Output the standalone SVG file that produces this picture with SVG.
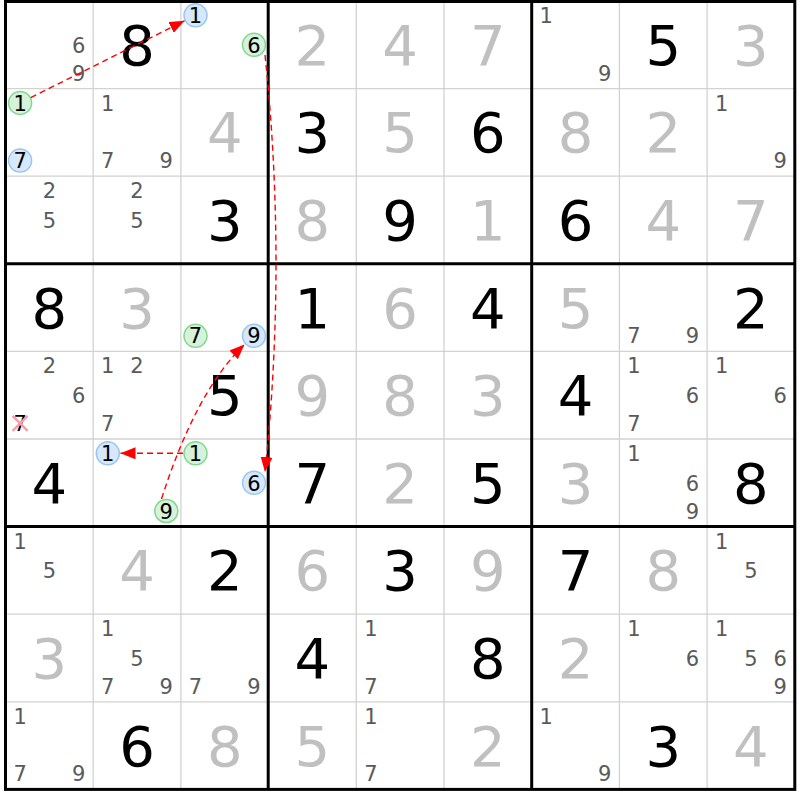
<svg xmlns="http://www.w3.org/2000/svg" width="800" height="800" viewBox="0 0 800 800">
<style>
text{font-family:"DejaVu Sans","Liberation Sans",sans-serif;text-anchor:middle}
.b{font-size:56px;fill:#000}
.f{font-size:56px;fill:#c0c0c0}
.p{font-size:21px;fill:#5a5a5a}
.k{font-size:21px;fill:#000}
.cg{fill:#d6f2da;stroke:#7fd88c;stroke-width:1.5}
.cb{fill:#d6e8fa;stroke:#98c6f2;stroke-width:1.5}
.thin{stroke:#d2d2d2;stroke-width:1.3}
.thick{stroke:#000;stroke-width:3;fill:none}
.arr{fill:none;stroke:#f00;stroke-width:1.4;stroke-dasharray:6,4;marker-end:url(#ah)}
</style>
<defs>
<marker id="ah" markerUnits="userSpaceOnUse" markerWidth="16" markerHeight="12" refX="15" refY="6" orient="auto">
<path d="M0,0 L15,6 L0,12 z" fill="#f00"/>
</marker>
</defs>
<rect x="0" y="0" width="800" height="800" fill="#fff"/>
<g id="grid">
<g class="thin">
<line x1="93.2" y1="1" x2="93.2" y2="789.4"/><line x1="180.9" y1="1" x2="180.9" y2="789.4"/>
<line x1="356.3" y1="1" x2="356.3" y2="789.4"/><line x1="444" y1="1" x2="444" y2="789.4"/>
<line x1="619.4" y1="1" x2="619.4" y2="789.4"/><line x1="707.1" y1="1" x2="707.1" y2="789.4"/>
<line x1="5.5" y1="88.6" x2="794.8" y2="88.6"/><line x1="5.5" y1="176.2" x2="794.8" y2="176.2"/>
<line x1="5.5" y1="351.4" x2="794.8" y2="351.4"/><line x1="5.5" y1="439" x2="794.8" y2="439"/>
<line x1="5.5" y1="614.2" x2="794.8" y2="614.2"/><line x1="5.5" y1="701.8" x2="794.8" y2="701.8"/>
</g>
<g class="thick">
<rect x="5.5" y="1.5" width="789.3" height="787.9"/>
<line x1="268.2" y1="1" x2="268.2" y2="789.4"/><line x1="531.7" y1="1" x2="531.7" y2="789.4"/>
<line x1="5.5" y1="263.8" x2="794.8" y2="263.8"/><line x1="5.5" y1="526.6" x2="794.8" y2="526.6"/>
</g>
</g>

<!-- Row 1 -->
<g id="r1c1" transform="translate(5.5,1)"><text class="p" x="73.1" y="51.5">6</text><text class="p" x="73.1" y="79.7">9</text></g>
<g id="r1c2" transform="translate(93.2,1)"><text class="b" x="43.85" y="63.8">8</text></g>
<g id="r1c3" transform="translate(180.9,1)"><circle class="cb" cx="14.6" cy="14.3" r="11.5"/><text class="k" x="14.6" y="22">1</text><circle class="cg" cx="73.1" cy="43.8" r="11.5"/><text class="k" x="73.1" y="51.5">6</text></g>
<g id="r1c4" transform="translate(268.6,1)"><text class="f" x="43.85" y="63.8">2</text></g>
<g id="r1c5" transform="translate(356.3,1)"><text class="f" x="43.85" y="63.8">4</text></g>
<g id="r1c6" transform="translate(444,1)"><text class="f" x="43.85" y="63.8">7</text></g>
<g id="r1c7" transform="translate(531.7,1)"><text class="p" x="14.6" y="22">1</text><text class="p" x="73.1" y="79.7">9</text></g>
<g id="r1c8" transform="translate(619.4,1)"><text class="b" x="43.85" y="63.8">5</text></g>
<g id="r1c9" transform="translate(707.1,1)"><text class="f" x="43.85" y="63.8">3</text></g>

<!-- Row 2 -->
<g id="r2c1" transform="translate(5.5,88.6)"><circle class="cg" cx="14.6" cy="14.3" r="11.5"/><text class="k" x="14.6" y="22">1</text><circle class="cb" cx="14.6" cy="72" r="11.5"/><text class="k" x="14.6" y="79.7">7</text></g>
<g id="r2c2" transform="translate(93.2,88.6)"><text class="p" x="14.6" y="22">1</text><text class="p" x="14.6" y="79.7">7</text><text class="p" x="73.1" y="79.7">9</text></g>
<g id="r2c3" transform="translate(180.9,88.6)"><text class="f" x="43.85" y="63.8">4</text></g>
<g id="r2c4" transform="translate(268.6,88.6)"><text class="b" x="43.85" y="63.8">3</text></g>
<g id="r2c5" transform="translate(356.3,88.6)"><text class="f" x="43.85" y="63.8">5</text></g>
<g id="r2c6" transform="translate(444,88.6)"><text class="b" x="43.85" y="63.8">6</text></g>
<g id="r2c7" transform="translate(531.7,88.6)"><text class="f" x="43.85" y="63.8">8</text></g>
<g id="r2c8" transform="translate(619.4,88.6)"><text class="f" x="43.85" y="63.8">2</text></g>
<g id="r2c9" transform="translate(707.1,88.6)"><text class="p" x="14.6" y="22">1</text><text class="p" x="73.1" y="79.7">9</text></g>

<!-- Row 3 -->
<g id="r3c1" transform="translate(5.5,176.2)"><text class="p" x="43.85" y="22">2</text><text class="p" x="43.85" y="51.5">5</text></g>
<g id="r3c2" transform="translate(93.2,176.2)"><text class="p" x="43.85" y="22">2</text><text class="p" x="43.85" y="51.5">5</text></g>
<g id="r3c3" transform="translate(180.9,176.2)"><text class="b" x="43.85" y="63.8">3</text></g>
<g id="r3c4" transform="translate(268.6,176.2)"><text class="f" x="43.85" y="63.8">8</text></g>
<g id="r3c5" transform="translate(356.3,176.2)"><text class="b" x="43.85" y="63.8">9</text></g>
<g id="r3c6" transform="translate(444,176.2)"><text class="f" x="43.85" y="63.8">1</text></g>
<g id="r3c7" transform="translate(531.7,176.2)"><text class="b" x="43.85" y="63.8">6</text></g>
<g id="r3c8" transform="translate(619.4,176.2)"><text class="f" x="43.85" y="63.8">4</text></g>
<g id="r3c9" transform="translate(707.1,176.2)"><text class="f" x="43.85" y="63.8">7</text></g>

<!-- Row 4 -->
<g id="r4c1" transform="translate(5.5,263.8)"><text class="b" x="43.85" y="63.8">8</text></g>
<g id="r4c2" transform="translate(93.2,263.8)"><text class="f" x="43.85" y="63.8">3</text></g>
<g id="r4c3" transform="translate(180.9,263.8)"><circle class="cg" cx="14.6" cy="72" r="11.5"/><text class="k" x="14.6" y="79.7">7</text><circle class="cb" cx="73.1" cy="72" r="11.5"/><text class="k" x="73.1" y="79.7">9</text></g>
<g id="r4c4" transform="translate(268.6,263.8)"><text class="b" x="43.85" y="63.8">1</text></g>
<g id="r4c5" transform="translate(356.3,263.8)"><text class="f" x="43.85" y="63.8">6</text></g>
<g id="r4c6" transform="translate(444,263.8)"><text class="b" x="43.85" y="63.8">4</text></g>
<g id="r4c7" transform="translate(531.7,263.8)"><text class="f" x="43.85" y="63.8">5</text></g>
<g id="r4c8" transform="translate(619.4,263.8)"><text class="p" x="14.6" y="79.7">7</text><text class="p" x="73.1" y="79.7">9</text></g>
<g id="r4c9" transform="translate(707.1,263.8)"><text class="b" x="43.85" y="63.8">2</text></g>

<!-- Row 5 -->
<g id="r5c1" transform="translate(5.5,351.4)"><text class="p" x="43.85" y="22">2</text><text class="p" x="73.1" y="51.5">6</text><text class="k" x="14.6" y="79.7" fill="#222">7</text><path d="M7.1,64.5 L22.1,79.5 M22.1,64.5 L7.1,79.5" stroke="#f2a0aa" stroke-width="2.4" fill="none"/></g>
<g id="r5c2" transform="translate(93.2,351.4)"><text class="p" x="14.6" y="22">1</text><text class="p" x="43.85" y="22">2</text><text class="p" x="14.6" y="79.7">7</text></g>
<g id="r5c3" transform="translate(180.9,351.4)"><text class="b" x="43.85" y="63.8">5</text></g>
<g id="r5c4" transform="translate(268.6,351.4)"><text class="f" x="43.85" y="63.8">9</text></g>
<g id="r5c5" transform="translate(356.3,351.4)"><text class="f" x="43.85" y="63.8">8</text></g>
<g id="r5c6" transform="translate(444,351.4)"><text class="f" x="43.85" y="63.8">3</text></g>
<g id="r5c7" transform="translate(531.7,351.4)"><text class="b" x="43.85" y="63.8">4</text></g>
<g id="r5c8" transform="translate(619.4,351.4)"><text class="p" x="14.6" y="22">1</text><text class="p" x="73.1" y="51.5">6</text><text class="p" x="14.6" y="79.7">7</text></g>
<g id="r5c9" transform="translate(707.1,351.4)"><text class="p" x="14.6" y="22">1</text><text class="p" x="73.1" y="51.5">6</text></g>

<!-- Row 6 -->
<g id="r6c1" transform="translate(5.5,439)"><text class="b" x="43.85" y="63.8">4</text></g>
<g id="r6c2" transform="translate(93.2,439)"><circle class="cb" cx="14.6" cy="14.3" r="11.5"/><text class="k" x="14.6" y="22">1</text><circle class="cg" cx="73.1" cy="72" r="11.5"/><text class="k" x="73.1" y="79.7">9</text></g>
<g id="r6c3" transform="translate(180.9,439)"><circle class="cg" cx="14.6" cy="14.3" r="11.5"/><text class="k" x="14.6" y="22">1</text><circle class="cb" cx="73.1" cy="43.8" r="11.5"/><text class="k" x="73.1" y="51.5">6</text></g>
<g id="r6c4" transform="translate(268.6,439)"><text class="b" x="43.85" y="63.8">7</text></g>
<g id="r6c5" transform="translate(356.3,439)"><text class="f" x="43.85" y="63.8">2</text></g>
<g id="r6c6" transform="translate(444,439)"><text class="b" x="43.85" y="63.8">5</text></g>
<g id="r6c7" transform="translate(531.7,439)"><text class="f" x="43.85" y="63.8">3</text></g>
<g id="r6c8" transform="translate(619.4,439)"><text class="p" x="14.6" y="22">1</text><text class="p" x="73.1" y="51.5">6</text><text class="p" x="73.1" y="79.7">9</text></g>
<g id="r6c9" transform="translate(707.1,439)"><text class="b" x="43.85" y="63.8">8</text></g>

<!-- Row 7 -->
<g id="r7c1" transform="translate(5.5,526.6)"><text class="p" x="14.6" y="22">1</text><text class="p" x="43.85" y="51.5">5</text></g>
<g id="r7c2" transform="translate(93.2,526.6)"><text class="f" x="43.85" y="63.8">4</text></g>
<g id="r7c3" transform="translate(180.9,526.6)"><text class="b" x="43.85" y="63.8">2</text></g>
<g id="r7c4" transform="translate(268.6,526.6)"><text class="f" x="43.85" y="63.8">6</text></g>
<g id="r7c5" transform="translate(356.3,526.6)"><text class="b" x="43.85" y="63.8">3</text></g>
<g id="r7c6" transform="translate(444,526.6)"><text class="f" x="43.85" y="63.8">9</text></g>
<g id="r7c7" transform="translate(531.7,526.6)"><text class="b" x="43.85" y="63.8">7</text></g>
<g id="r7c8" transform="translate(619.4,526.6)"><text class="f" x="43.85" y="63.8">8</text></g>
<g id="r7c9" transform="translate(707.1,526.6)"><text class="p" x="14.6" y="22">1</text><text class="p" x="43.85" y="51.5">5</text></g>

<!-- Row 8 -->
<g id="r8c1" transform="translate(5.5,614.2)"><text class="f" x="43.85" y="63.8">3</text></g>
<g id="r8c2" transform="translate(93.2,614.2)"><text class="p" x="14.6" y="22">1</text><text class="p" x="43.85" y="51.5">5</text><text class="p" x="14.6" y="79.7">7</text><text class="p" x="73.1" y="79.7">9</text></g>
<g id="r8c3" transform="translate(180.9,614.2)"><text class="p" x="14.6" y="79.7">7</text><text class="p" x="73.1" y="79.7">9</text></g>
<g id="r8c4" transform="translate(268.6,614.2)"><text class="b" x="43.85" y="63.8">4</text></g>
<g id="r8c5" transform="translate(356.3,614.2)"><text class="p" x="14.6" y="22">1</text><text class="p" x="14.6" y="79.7">7</text></g>
<g id="r8c6" transform="translate(444,614.2)"><text class="b" x="43.85" y="63.8">8</text></g>
<g id="r8c7" transform="translate(531.7,614.2)"><text class="f" x="43.85" y="63.8">2</text></g>
<g id="r8c8" transform="translate(619.4,614.2)"><text class="p" x="14.6" y="22">1</text><text class="p" x="73.1" y="51.5">6</text></g>
<g id="r8c9" transform="translate(707.1,614.2)"><text class="p" x="14.6" y="22">1</text><text class="p" x="43.85" y="51.5">5</text><text class="p" x="73.1" y="51.5">6</text><text class="p" x="73.1" y="79.7">9</text></g>

<!-- Row 9 -->
<g id="r9c1" transform="translate(5.5,701.8)"><text class="p" x="14.6" y="22">1</text><text class="p" x="14.6" y="79.7">7</text><text class="p" x="73.1" y="79.7">9</text></g>
<g id="r9c2" transform="translate(93.2,701.8)"><text class="b" x="43.85" y="63.8">6</text></g>
<g id="r9c3" transform="translate(180.9,701.8)"><text class="f" x="43.85" y="63.8">8</text></g>
<g id="r9c4" transform="translate(268.6,701.8)"><text class="f" x="43.85" y="63.8">5</text></g>
<g id="r9c5" transform="translate(356.3,701.8)"><text class="p" x="14.6" y="22">1</text><text class="p" x="14.6" y="79.7">7</text></g>
<g id="r9c6" transform="translate(444,701.8)"><text class="f" x="43.85" y="63.8">2</text></g>
<g id="r9c7" transform="translate(531.7,701.8)"><text class="p" x="14.6" y="22">1</text><text class="p" x="73.1" y="79.7">9</text></g>
<g id="r9c8" transform="translate(619.4,701.8)"><text class="b" x="43.85" y="63.8">3</text></g>
<g id="r9c9" transform="translate(707.1,701.8)"><text class="f" x="43.85" y="63.8">4</text></g>

<g id="connectors">
<path class="arr" d="M30.8,97.6 L184.5,20.8"/>
<path class="arr" d="M265,55 Q287,263 265,472"/>
<path class="arr" d="M183,453.3 L120.5,453.3"/>
<path class="arr" d="M161.5,499 Q196,391 244.5,344.5"/>
</g>
</svg>
